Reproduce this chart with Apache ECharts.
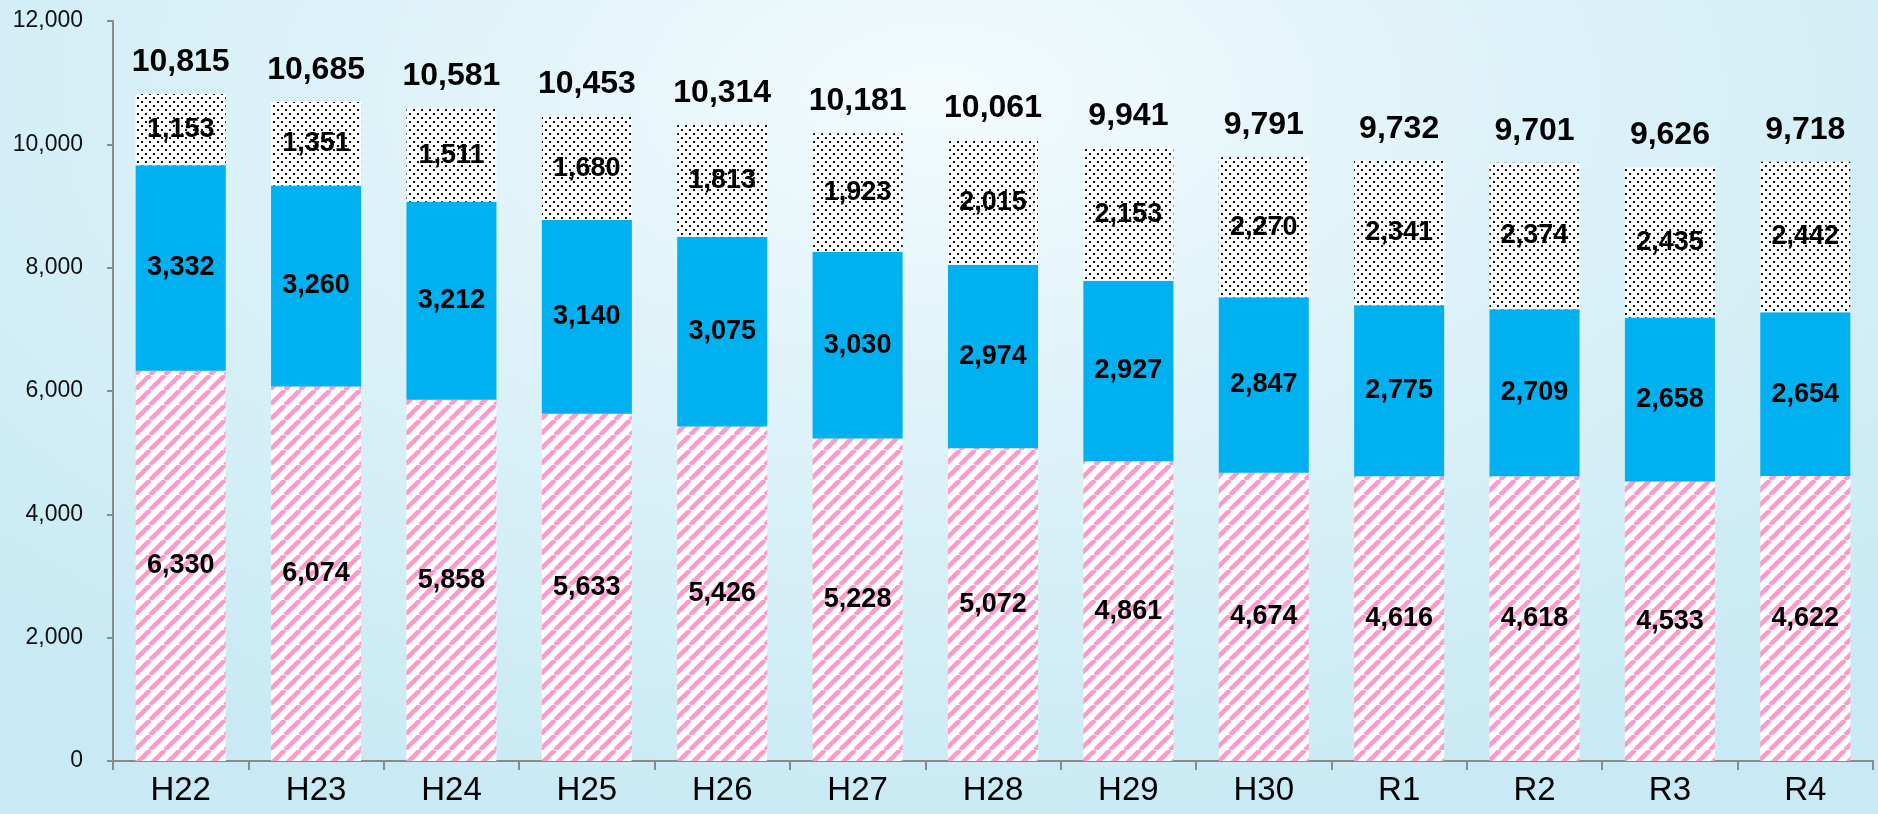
<!DOCTYPE html>
<html>
<head>
<meta charset="utf-8">
<script src="https://cdn.jsdelivr.net/npm/echarts@6/dist/echarts.min.js"></script>
<style>
html,body{margin:0;padding:0;width:1878px;height:814px;overflow:hidden;}
body{background:radial-gradient(ellipse 70% 90% at 50% 12%, #f3fbfd 0%, #dff3f9 40%, #c9eaf4 100%);}
#c{width:1878px;height:814px;}
</style>
</head>
<body>
<div id="c"></div>
<script>
const categories = ['H22','H23','H24','H25','H26','H27','H28','H29','H30','R1','R2','R3','R4'];
const stripeValues = [6330, 6074, 5858, 5633, 5426, 5228, 5072, 4861, 4674, 4616, 4618, 4533, 4622];
const blueValues   = [3332, 3260, 3212, 3140, 3075, 3030, 2974, 2927, 2847, 2775, 2709, 2658, 2654];
const dotValues    = [1153, 1351, 1511, 1680, 1813, 1923, 2015, 2153, 2270, 2341, 2374, 2435, 2442];
const totalValues  = [10815, 10685, 10581, 10453, 10314, 10181, 10061, 9941, 9791, 9732, 9701, 9626, 9718];
const yTicks = [0, 2000, 4000, 6000, 8000, 10000, 12000];

function stripeTile(){
  const s = 15, c = document.createElement('canvas');
  c.width = s; c.height = s;
  const g = c.getContext('2d');
  g.fillStyle = '#ffffff'; g.fillRect(0,0,s,s);
  g.strokeStyle = '#ff99cc'; g.lineWidth = 4.5;
  for (const o of [-s, 0, s]) {
    g.beginPath(); g.moveTo(o, s); g.lineTo(o + s, 0); g.stroke();
  }
  return c;
}
function dotTile(){
  const s = 8, c = document.createElement('canvas');
  c.width = s; c.height = s;
  const g = c.getContext('2d');
  g.fillStyle = '#ffffff'; g.fillRect(0,0,s,s);
  g.fillStyle = '#111111';
  g.fillRect(1,1,2,2); g.fillRect(5,5,2,2);
  return c;
}
const fmt = v => v.toLocaleString('en-US');
const FONT = '"Liberation Sans","Arimo",Arial,sans-serif';
const inLabel = {show:true, position:'inside', fontFamily:FONT, fontSize:27, fontWeight:'bold', color:'#000',
  formatter: p => fmt(p.value)};

const chart = echarts.init(document.getElementById('c'), null, {renderer:'canvas'});
chart.setOption({
  backgroundColor: 'transparent',
  animation: false,
  grid: {left:113, right:5, top:21, bottom:53},
  xAxis: {
    type:'category', data: categories,
    axisLine:{lineStyle:{color:'#8a8a8a', width:2}},
    axisTick:{show:true, length:9, lineStyle:{color:'#8a8a8a', width:2}},
    axisLabel:{fontFamily:FONT, fontSize:33, color:'#000', margin:13}
  },
  yAxis: {
    type:'value', min:yTicks[0], max:yTicks[yTicks.length-1], interval:yTicks[1]-yTicks[0],
    splitLine:{show:false},
    axisLine:{show:true, lineStyle:{color:'#8a8a8a', width:2}},
    axisTick:{show:true, length:6, lineStyle:{color:'#8a8a8a', width:2}},
    axisLabel:{fontFamily:FONT, fontSize:23, color:'#111', margin:30, formatter: v => fmt(v)}
  },
  series: [
    {type:'bar', stack:'a', data: stripeValues, barWidth:'66.5%',
      itemStyle:{color:{image: stripeTile(), repeat:'repeat'}}, label: inLabel},
    {type:'bar', stack:'a', data: blueValues, barWidth:'66.5%',
      itemStyle:{color:'#00b0ef'}, label: inLabel},
    {type:'bar', stack:'a', data: dotValues, barWidth:'66.5%',
      itemStyle:{color:{image: dotTile(), repeat:'repeat'}}, label: inLabel},
    {type:'bar', data: totalValues, barWidth:'66.5%', barGap:'-100%', z:1,
      itemStyle:{color:'rgba(0,0,0,0)'},
      label:{show:true, position:'top', distance:16, fontFamily:FONT, fontSize:32, fontWeight:'bold', color:'#000',
        formatter: p => fmt(p.value)}}
  ]
});
</script>
</body>
</html>
